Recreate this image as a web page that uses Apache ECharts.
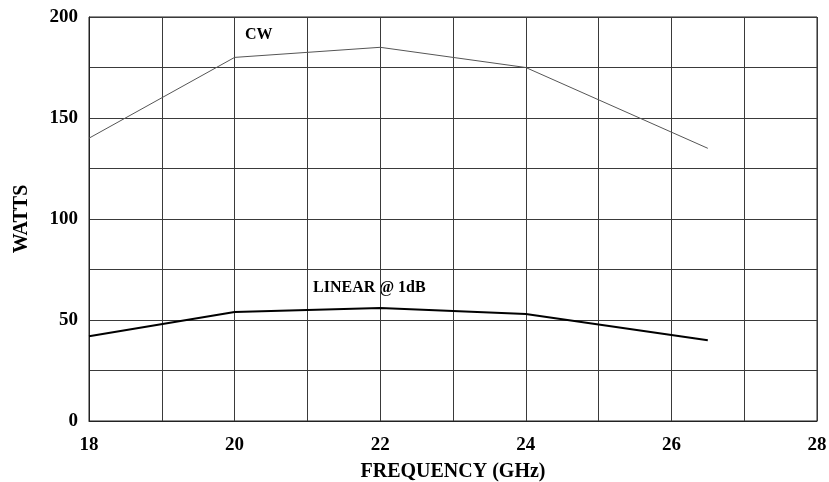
<!DOCTYPE html>
<html>
<head>
<meta charset="utf-8">
<script src="https://cdn.jsdelivr.net/npm/echarts@6/dist/echarts.min.js"></script>
<style>html,body{margin:0;padding:0;background:#fff}#c{width:829px;height:482px}</style>
</head>
<body>
<div id="c"></div>
<script>
const freq = [18, 20, 22, 24, 26.5];
const cwWatts = [140, 180, 185, 175, 135];
const linearWatts = [42, 54, 56, 53, 40];
const xTicks = [18, 20, 22, 24, 26, 28];
const yTicks = [0, 50, 100, 150, 200];

const font = '"Liberation Serif", "Times New Roman", serif';
const chart = echarts.init(document.getElementById('c'));
chart.setOption({
  animation: false,
  grid: { left: 89, right: 12, top: 17, bottom: 61, show: true, borderColor: '#222', borderWidth: 1,
          containLabel: false, outerBoundsMode: 'none' },
  xAxis: {
    type: 'value', min: 18, max: 28, interval: 1,
    name: 'FREQUENCY (GHz)', nameLocation: 'middle', nameGap: 41,
    nameTextStyle: { fontFamily: font, fontWeight: 'bold', fontSize: 20, color: '#000' },
    axisLine: { show: true, lineStyle: { color: '#222' } },
    axisTick: { show: false },
    axisLabel: {
      fontFamily: font, fontWeight: 'bold', fontSize: 19, color: '#000', margin: 15,
      formatter: v => xTicks.includes(v) ? String(v) : ''
    },
    splitLine: { show: true, lineStyle: { color: '#3a3a3a', width: 1 } }
  },
  yAxis: {
    type: 'value', min: 0, max: 200, interval: 25,
    name: 'WATTS', nameLocation: 'middle', nameGap: 57, nameRotate: 90,
    nameTextStyle: { fontFamily: font, fontWeight: 'bold', fontSize: 20, color: '#000' },
    axisLine: { show: true, lineStyle: { color: '#222' } },
    axisTick: { show: false },
    axisLabel: {
      fontFamily: font, fontWeight: 'bold', fontSize: 19, color: '#000', margin: 11,
      formatter: v => yTicks.includes(v) ? String(v) : ''
    },
    splitLine: { show: true, lineStyle: { color: '#3a3a3a', width: 1 } }
  },
  series: [
    {
      name: 'CW', type: 'line', data: freq.map((f, i) => [f, cwWatts[i]]),
      symbol: 'none', lineStyle: { color: '#555', width: 1 }
    },
    {
      name: 'LINEAR @ 1dB', type: 'line', data: freq.map((f, i) => [f, linearWatts[i]]),
      symbol: 'none', lineStyle: { color: '#000', width: 2 }
    }
  ],
  graphic: [
    { type: 'text', left: 245, top: 27, style: { text: 'CW', font: 'bold 16px ' + font, fill: '#000' } },
    { type: 'text', left: 313, top: 280, style: { text: 'LINEAR @ 1dB', font: 'bold 16px ' + font, fill: '#000' } }
  ]
});
</script>
</body>
</html>
